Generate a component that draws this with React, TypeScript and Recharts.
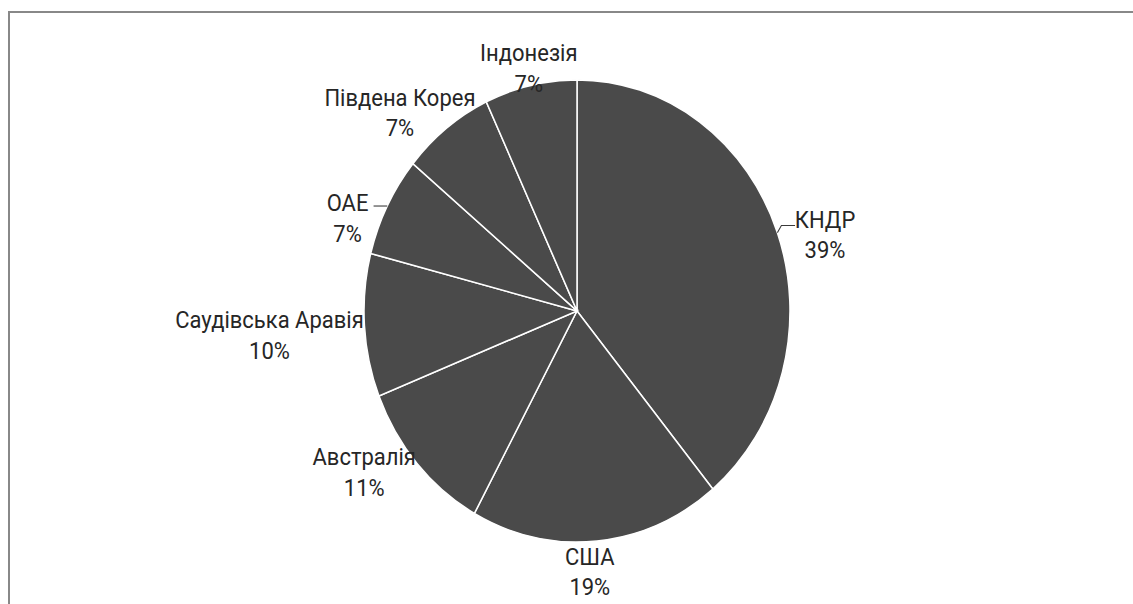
import { Pie, PieChart, Cell } from "recharts";

const countries = ["КНДР", "США", "Австралія", "Саудівська Аравія", "ОАЕ", "Південа Корея", "Індонезія"];
const shares = [39, 19, 11, 10, 7, 7, 7];

const data = countries.map((name, i) => ({ name, value: shares[i] }));

const SLICE = "#4a4a4a";
const TEXT = "#262626";
const STRETCH = 1.085; // reference is squashed wider than tall
const RADIUS = 213;
const LABEL_GAP = 40;
const LINE_H = 28;

// manual "best fit" nudges, [dx, dy] from the default label spot
const LABEL_NUDGE: [number, number][] = [
  [10, 16],
  [-11, -11],
  [-23, -18],
  [-55, 7],
  [-4, 30],
  [-22, 18],
  [7, 24],
];
// leader lines: index -> x offset of the line's end relative to label center
const LEADER: Record<number, number> = { 0: -30, 4: 26 };

const RAD = Math.PI / 180;

function SliceLabel(props: any) {
  const { cx, cy, midAngle, outerRadius, index, name, value } = props;
  const r = outerRadius + LABEL_GAP;
  const [nx, ny] = LABEL_NUDGE[index] ?? [0, 0];
  const x = cx + r * Math.cos(-midAngle * RAD) + nx;
  const y = cy + r * Math.sin(-midAngle * RAD) + ny;

  let leader = null;
  if (LEADER[index] !== undefined) {
    const ex = cx + outerRadius * Math.cos(-midAngle * RAD);
    const ey = cy + outerRadius * Math.sin(-midAngle * RAD);
    const side = LEADER[index] < 0 ? 1 : -1;
    // horizontal run at the first line's baseline, with a short kink if the edge is off it
    let ly = y - 9;
    let d: string;
    if (Math.abs(ey - ly) < 4) {
      ly = ey;
      d = `M${ex},${ey} L${x + LEADER[index]},${ly}`;
    } else {
      d = `M${ex},${ey} L${ex + side * 4},${ly} L${x + LEADER[index]},${ly}`;
    }
    leader = <path d={d} stroke="#3a3a3a" strokeWidth={1} fill="none" />;
  }

  return (
    <g>
      {leader}
      <text
        x={x}
        y={y}
        textAnchor="middle"
        fill={TEXT}
        fontFamily="Roboto, 'Open Sans', sans-serif"
        fontSize={22}
      >
        <tspan x={x} y={y - 7}>{name}</tspan>
        <tspan x={x} y={y - 7 + LINE_H}>{`${value}%`}</tspan>
      </text>
    </g>
  );
}

export default function App() {
  const w = 1123;
  const h = 545;
  return (
    <div
      style={{
        position: "absolute",
        left: 8,
        top: 11,
        width: 1125,
        height: 593,
        borderTop: "2px solid #888",
        borderLeft: "2px solid #888",
        boxSizing: "border-box",
        overflow: "hidden",
        background: "#fff",
      }}
    >
      <div style={{ width: w, height: h, transform: `scaleY(${STRETCH})`, transformOrigin: "0 0" }}>
        <PieChart width={w} height={h} margin={{ top: 0, right: 0, bottom: 0, left: 0 }}>
          <Pie
            data={data}
            dataKey="value"
            nameKey="name"
            cx={567}
            cy={274.6}
            outerRadius={RADIUS}
            startAngle={90}
            endAngle={-270}
            stroke="#ffffff"
            strokeWidth={1.5}
            label={SliceLabel}
            labelLine={false}
            isAnimationActive={false}
          >
            {data.map((d) => (
              <Cell key={d.name} fill={SLICE} />
            ))}
          </Pie>
        </PieChart>
      </div>
    </div>
  );
}
